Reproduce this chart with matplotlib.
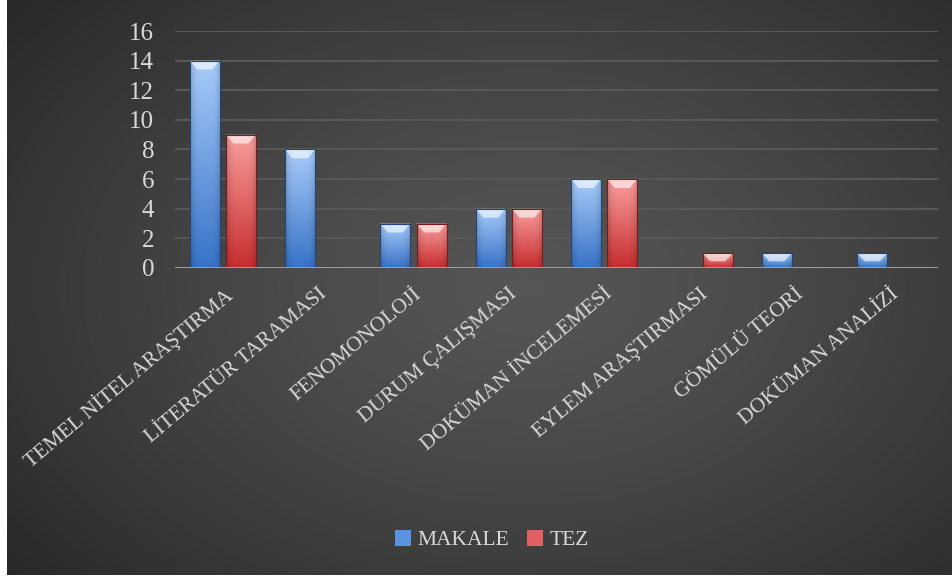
import numpy as np
import matplotlib
matplotlib.use("Agg")
import matplotlib.pyplot as plt
from matplotlib.patches import Polygon, Patch

categories = ["TEMEL NİTEL ARAŞTIRMA", "LİTERATÜR TARAMASI", "FENOMONOLOJİ",
              "DURUM ÇALIŞMASI", "DOKÜMAN İNCELEMESİ", "EYLEM ARAŞTIRMASI",
              "GÖMÜLÜ TEORİ", "DOKÜMAN ANALİZİ"]
makale = [14, 8, 3, 4, 6, 0, 1, 1]
tez = [9, 0, 3, 4, 6, 1, 0, 0]
series_names = ["MAKALE", "TEZ"]

plt.rcParams['font.family'] = ['Liberation Serif', 'DejaVu Serif']
txt = '#d9d9d9'

fig = plt.figure(figsize=(9.53, 5.79), dpi=100)
fig.patch.set_facecolor('white')

# dark radial background
bg = fig.add_axes([7 / 953, 4 / 579, 946 / 953, 575 / 579])
yy, xx = np.mgrid[0:1:300j, 0:1:500j]
r = np.sqrt(((xx - 0.55) / 0.72) ** 2 + ((yy - 0.5) / 0.8) ** 2)
r = np.clip(r, 0, 1)
shade = 0.335 - 0.18 * r ** 1.3
bg.imshow(np.dstack([shade] * 3), extent=(0, 1, 0, 1), aspect='auto')
bg.set_axis_off()

ax = fig.add_axes([175 / 953, 1 - 268 / 579, 763 / 953, 237 / 579])
ax.set_facecolor('none')

x = np.arange(len(categories))
w = 0.315
off = 0.19

def grad_bar(xc, h, top, bottom):
    if h <= 0:
        return
    b = ax.bar(xc, h, w, color='none', edgecolor='none', zorder=3)[0]
    n = 60
    t = np.linspace(0, 1, n)[:, None, None]  # row 0 = bottom (origin lower)
    col = np.array(bottom) + (np.array(top) - np.array(bottom)) * t
    hx = np.linspace(-1, 1, 30)[None, :, None]
    col = col * (1 - 0.18 * hx ** 4)
    col = np.clip(np.repeat(col, 30, axis=1), 0, 1)
    im = ax.imshow(col, extent=(xc - w / 2, xc + w / 2, 0, h), origin='lower',
                   aspect='auto', zorder=3)
    im.set_clip_path(b)
    bh = min(0.6, h * 0.55)
    bev = Polygon([(xc - w / 2, h), (xc + w / 2, h),
                   (xc + w / 2 - w * 0.25, h - bh), (xc - w / 2 + w * 0.25, h - bh)],
                  closed=True, facecolor='white', alpha=0.6, edgecolor='none', zorder=4)
    ax.add_patch(bev)
    ax.plot([xc - w / 2, xc - w / 2, xc + w / 2, xc + w / 2], [0, h, h, 0],
            color=np.array(bottom) * 0.6, lw=0.8, zorder=4)

blue_top, blue_bot = (0.66, 0.80, 0.98), (0.22, 0.45, 0.78)
red_top, red_bot = (0.98, 0.62, 0.62), (0.78, 0.18, 0.18)

for i in range(len(categories)):
    grad_bar(x[i] - off, makale[i], blue_top, blue_bot)
    grad_bar(x[i] + off, tez[i], red_top, red_bot)

ax.set_xlim(-0.5, len(categories) - 0.5)
ax.set_ylim(0, 16)
ax.set_yticks(range(0, 17, 2))
ax.yaxis.grid(True, color='#575757', lw=1.5)
ax.set_axisbelow(True)
ax.axhline(0, color='#a6a6a6', lw=2, zorder=5)
for s in ax.spines.values():
    s.set_visible(False)
ax.tick_params(axis='y', length=0, pad=15, labelsize=18, labelcolor=txt)
ax.tick_params(axis='x', length=0, pad=12, labelsize=15.3, labelcolor=txt)
ax.set_xticks(x)
ax.set_xticklabels(categories, rotation=40, ha='right', va='top', rotation_mode='anchor')

handles = [Patch(facecolor=(0.35, 0.58, 0.88), edgecolor='none'),
           Patch(facecolor=(0.88, 0.38, 0.38), edgecolor='none')]
fig.legend(handles, series_names, loc='center', bbox_to_anchor=(0.516, 0.067),
           ncol=2, frameon=False, fontsize=15.5, labelcolor=txt,
           handlelength=0.75, handleheight=0.75, handletextpad=0.3, columnspacing=0.8)

fig.savefig('out.png', dpi=100, facecolor=fig.get_facecolor())
